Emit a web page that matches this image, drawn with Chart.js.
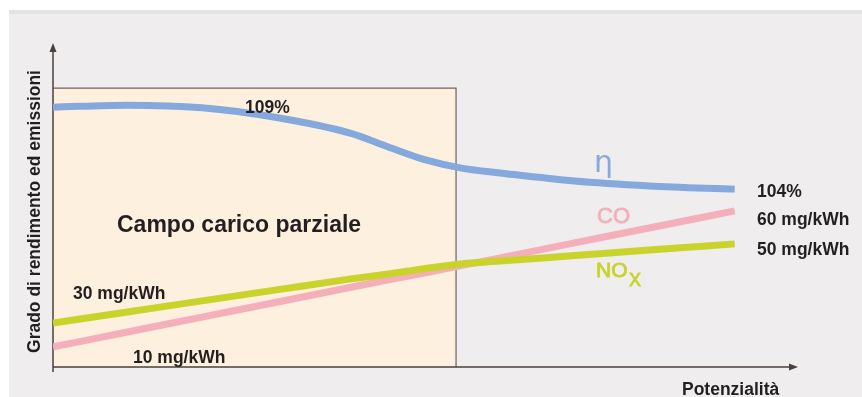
<!DOCTYPE html>
<html lang="it">
<head>
<meta charset="UTF-8">
<title>Grado di rendimento ed emissioni</title>
<script src="https://cdn.jsdelivr.net/npm/chart.js"></script>
<style>
  html, body { margin: 0; padding: 0; background: #fff; }
</style>
</head>
<body>
<canvas id="grafico" width="862" height="397"></canvas>
<script>
// potenzialità (scala relativa 0-100) e curve
const potenza      = [0, 10, 20, 30, 40, 45, 50, 55, 60, 70, 80, 91.5];
const rendimento   = [80.2, 80.8, 80.0, 77.0, 72.1, 67.9, 63.9, 61.3, 59.9, 57.4, 55.9, 54.9];
const emissioniCO  = [6.2, 10.8, 15.4, 20.0, 24.6, 26.9, 29.1, 31.4, 33.7, 38.3, 42.9, 48.2];
const emissioniNOx = [13.6, 17.0, 20.4, 23.8, 27.2, 28.7, 30.4, 31.9, 32.7, 34.4, 36.1, 38.0];

// campo carico parziale (fino a questa potenzialità)
const fineCaricoParziale = 54.1;
const altezzaCampo = 86.1;

const blu = '#85a9dc';
const rosa = '#f4afbb';
const verde = '#c9d32b';
const testo = '#231f20';
const asse = '#4a403d';

function punti(valori) {
  return potenza.map((x, i) => ({ x: x, y: valori[i] }));
}

// testo un po' più pieno (il font medium non c'è)
function scritta(c, t, x, y) {
  c.fillText(t, x, y);
  c.strokeText(t, x, y);
}

// sfondo, riquadro e assi disegnati a mano
const decorazioni = {
  id: 'decorazioni',
  beforeDraw(chart) {
    const c = chart.ctx;
    c.save();
    c.fillStyle = '#ffffff';
    c.fillRect(0, 0, chart.width, chart.height);
    c.fillStyle = '#efedee';
    c.fillRect(9, 10, chart.width - 9, chart.height - 10);
    c.fillStyle = '#e4e3e2';
    c.fillRect(9, 10, chart.width - 9, 4);
    c.restore();
  },
  beforeDatasetsDraw(chart) {
    const c = chart.ctx;
    const x = chart.scales.x, y = chart.scales.y;
    const x0 = x.getPixelForValue(0), x1 = x.getPixelForValue(fineCaricoParziale);
    const y0 = y.getPixelForValue(0), y1 = y.getPixelForValue(altezzaCampo);
    c.save();
    c.fillStyle = '#fdf0de';
    c.fillRect(x0, y1, x1 - x0, y0 - y1);
    c.strokeStyle = '#6e6460';
    c.lineWidth = 1.2;
    c.beginPath();
    c.moveTo(x0, y1);
    c.lineTo(x1, y1);
    c.lineTo(x1, y0);
    c.stroke();

    // assi con frecce
    const area = chart.chartArea;
    c.strokeStyle = asse;
    c.fillStyle = asse;
    c.lineWidth = 1.5;
    c.beginPath();
    c.moveTo(x0, y0 + 5);
    c.lineTo(x0, area.top + 6);
    c.moveTo(x0, y0);
    c.lineTo(area.right - 6, y0);
    c.stroke();
    c.beginPath();
    c.moveTo(x0, area.top);
    c.lineTo(x0 - 3.5, area.top + 9);
    c.lineTo(x0 + 3.5, area.top + 9);
    c.closePath();
    c.fill();
    c.beginPath();
    c.moveTo(area.right, y0);
    c.lineTo(area.right - 9, y0 - 3.5);
    c.lineTo(area.right - 9, y0 + 3.5);
    c.closePath();
    c.fill();
    c.restore();
  },
  afterDatasetsDraw(chart) {
    const c = chart.ctx;
    c.save();
    c.textAlign = 'left';
    c.textBaseline = 'alphabetic';
    c.fillStyle = testo;
    c.font = 'bold 17.5px "Liberation Sans", Arial, sans-serif';
    c.fillText('109%', 245, 113);
    c.fillText('30 mg/kWh', 73, 299);
    c.fillText('10 mg/kWh', 133, 363);
    c.fillText('104%', 757, 197);
    c.fillText('60 mg/kWh', 757, 225);
    c.fillText('50 mg/kWh', 757, 255);
    c.fillText('Potenzialità', 682, 395);
    c.font = 'bold 23px "Liberation Sans", Arial, sans-serif';
    c.fillText('Campo carico parziale', 117, 232);

    // titolo asse verticale
    c.save();
    c.translate(40, 211.5);
    c.rotate(-Math.PI / 2);
    c.textAlign = 'center';
    c.font = 'bold 17.5px "Liberation Sans", Arial, sans-serif';
    c.fillText('Grado di rendimento ed emissioni', 0, 0);
    c.restore();

    // etichette delle curve
    c.lineWidth = 0.8;
    c.fillStyle = blu;
    c.strokeStyle = blu;
    c.font = '30px "DejaVu Sans", sans-serif';
    c.fillText('η', 594, 172);
    c.fillStyle = rosa;
    c.strokeStyle = rosa;
    c.font = '22px "Liberation Sans", Arial, sans-serif';
    scritta(c, 'CO', 597, 223);
    c.fillStyle = verde;
    c.strokeStyle = verde;
    c.font = '21px "Liberation Sans", Arial, sans-serif';
    scritta(c, 'NO', 596, 277);
    c.font = '18px "Liberation Sans", Arial, sans-serif';
    scritta(c, 'X', 629, 286);
    c.restore();
  }
};

const ctx = document.getElementById('grafico').getContext('2d');
const grafico = new Chart(ctx, {
  type: 'line',
  data: {
    datasets: [
      { label: 'NOx', data: punti(emissioniNOx), borderColor: verde, borderWidth: 7, order: 0 },
      { label: 'CO', data: punti(emissioniCO), borderColor: rosa, borderWidth: 7, order: 1 },
      { label: 'η', data: punti(rendimento), borderColor: blu, borderWidth: 7, order: 2 }
    ]
  },
  options: {
    responsive: false,
    devicePixelRatio: 1,
    animation: false,
    layout: { padding: { left: 53, right: 64, top: 43, bottom: 30 } },
    elements: {
      point: { radius: 0 },
      line: { cubicInterpolationMode: 'monotone', fill: false }
    },
    scales: {
      x: { type: 'linear', min: 0, max: 100, display: false },
      y: { type: 'linear', min: 0, max: 100, display: false }
    },
    plugins: {
      legend: { display: false },
      tooltip: { enabled: false }
    }
  },
  plugins: [decorazioni]
});
</script>
</body>
</html>
